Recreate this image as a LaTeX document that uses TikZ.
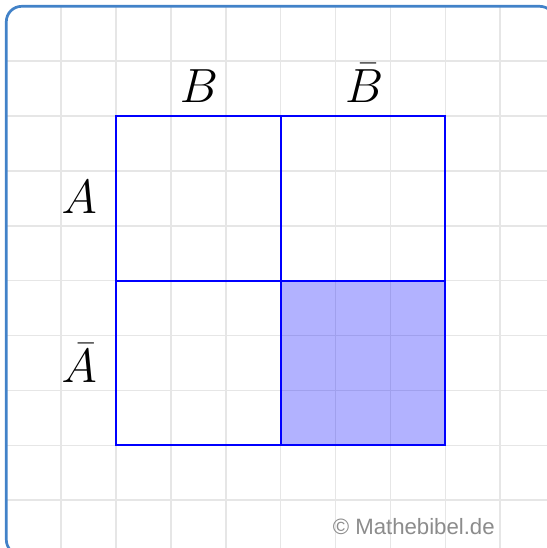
\documentclass[tikz,border=0pt]{standalone}
\usepackage{fontspec}
\newfontfamily\wmfont{Liberation Sans}
\definecolor{gridgray}{RGB}{230,230,230}
\definecolor{frameblue}{RGB}{66,130,200}
\definecolor{wmgray}{RGB}{140,140,140}
\tikzset{
  gridline/.style={draw=gridgray, line width=0.8pt},
  cellbox/.style={draw=blue, line width=1.1pt},
  shaded/.style={fill=blue, fill opacity=0.3},
  lbl/.style={inner sep=0pt, anchor=base, font=\fontsize{24}{28}\selectfont},
}
\begin{document}
\begin{tikzpicture}[x=1cm,y=-1cm]
\useasboundingbox (-0.115,-0.115) rectangle (9.835,9.871);
\fill[white] (-0.115,-0.115) rectangle (9.835,9.871);
\begin{scope}
\clip[rounded corners=0.28cm] (0,0) rectangle (10,10);
\foreach \i in {1,...,9} {
  \draw[gridline] (\i,0) -- (\i,10);
  \draw[gridline] (0,\i) -- (10,\i);
}
\end{scope}
\draw[frameblue, line width=1.4pt, rounded corners=0.28cm] (0,0) rectangle (10,10);
% shaded cell
\fill[shaded] (5,5) rectangle (8,8);
% blue table
\draw[cellbox] (2,2) rectangle (8,8);
\draw[cellbox] (5,2) -- (5,8);
\draw[cellbox] (2,5) -- (8,5);
\node[lbl] (B) at (3.51,1.76) {$B$};
\node[lbl] (Bb) at (6.52,1.76) {$\bar{B}$};
\node[lbl] (A) at (1.33,3.77) {$A$};
\node[lbl] (Ab) at (1.33,6.86) {$\bar{A}$};
\node[anchor=base east, inner sep=0pt, text=wmgray, font=\wmfont\fontsize{11.5}{13}\selectfont] (wm) at (8.906,9.62) {© Mathebibel.de};
\end{tikzpicture}
\end{document}
